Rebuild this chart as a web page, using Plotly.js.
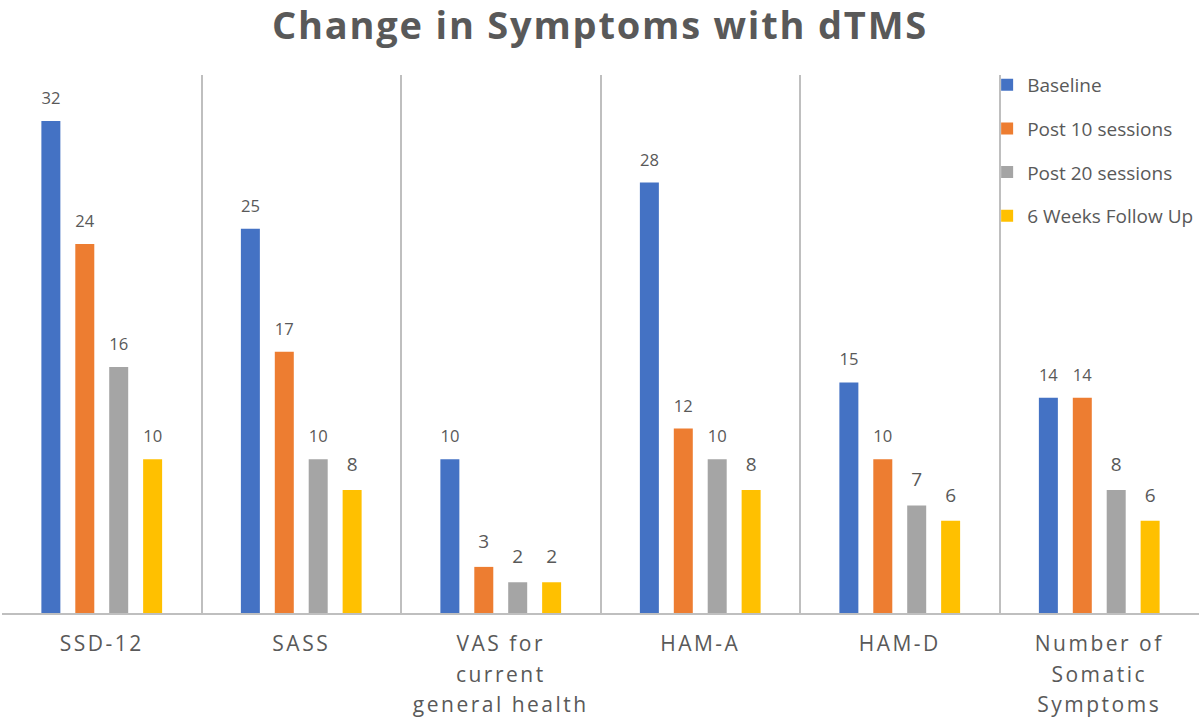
<!DOCTYPE html>
<html><head><meta charset="utf-8">
<script src="https://cdn.plot.ly/plotly-3.0.1.min.js"></script>
<style>
body{margin:0;background:#fff}
#chart .xtick text{letter-spacing:2.5px}
#chart .gtitle{letter-spacing:1.8px}
</style>
</head><body>
<div id="chart" style="width:1200px;height:720px"></div>
<script>
const categories = ["SSD-12", "SASS", "VAS for<br>current<br>general health", "HAM-A", "HAM-D", "Number of<br>Somatic<br>Symptoms"];
const seriesNames = ["Baseline", "Post 10 sessions", "Post 20 sessions", "6 Weeks Follow Up"];
const baseline = [32, 25, 10, 28, 15, 14];
const post10 = [24, 17, 3, 12, 10, 14];
const post20 = [16, 10, 2, 10, 7, 8];
const followUp = [10, 8, 2, 8, 6, 6];
const colors = ["#4472C4", "#ED7D31", "#A5A5A5", "#FFC000"];
const values = [baseline, post10, post20, followUp];

const traces = values.map((v, i) => ({
  type: "bar",
  name: seriesNames[i],
  legendgroup: "g" + i,
  x: categories,
  y: v,
  marker: {color: colors[i]},
  text: v.map(String),
  textposition: "outside",
  texttemplate: "<span style='font-size:19px'>%{text}</span><br> ",
  textfont: {family: "Open Sans", size: 10, color: "#595959"},
  cliponaxis: false,
  hoverinfo: "x+y+name"
}));

const layout = {
  width: 1200, height: 720,
  margin: {l: 2, r: 1, t: 75, b: 107},
  paper_bgcolor: "#fff", plot_bgcolor: "#fff",
  title: {text: "<b>Change in Symptoms with dTMS</b>", x: 0.5, xanchor: "center", y: 0.965, yanchor: "middle", yref: "container",
          font: {family: "Open Sans", size: 38, color: "#595959"}},
  barmode: "group",
  bargap: 0.32,
  bargroupgap: 0.44,
  showlegend: true,
  legend: {x: 0.823, xref: "paper", y: 1.017, yanchor: "top", bgcolor: "rgba(0,0,0,0)",
           font: {family: "Open Sans", size: 19, color: "#595959"}, tracegroupgap: 16, itemwidth: 30,
           traceorder: "grouped"},
  xaxis: {type: "category", tickson: "boundaries", showgrid: true, gridcolor: "#BFBFBF", gridwidth: 2,
          showline: true, linecolor: "#BFBFBF", linewidth: 2, ticks: "", ticklen: 0,
          tickfont: {family: "Open Sans", size: 21, color: "#595959"}, ticklabelstandoff: 11, zeroline: false},
  yaxis: {range: [0, 35], showgrid: false, showticklabels: false, zeroline: false, showline: false, ticks: ""}
};
Plotly.newPlot("chart", traces, layout, {displayModeBar: false}).then(() => {
  document.querySelectorAll("#chart .xtick text tspan.line").forEach(t => {
    const dy = t.getAttribute("dy");
    if (!dy) return;
    const v = parseFloat(dy);
    if (!isNaN(v) && v !== 0) t.setAttribute("dy", (v * 1.12).toFixed(3) + "em");
  });
});
</script>
</body></html>
